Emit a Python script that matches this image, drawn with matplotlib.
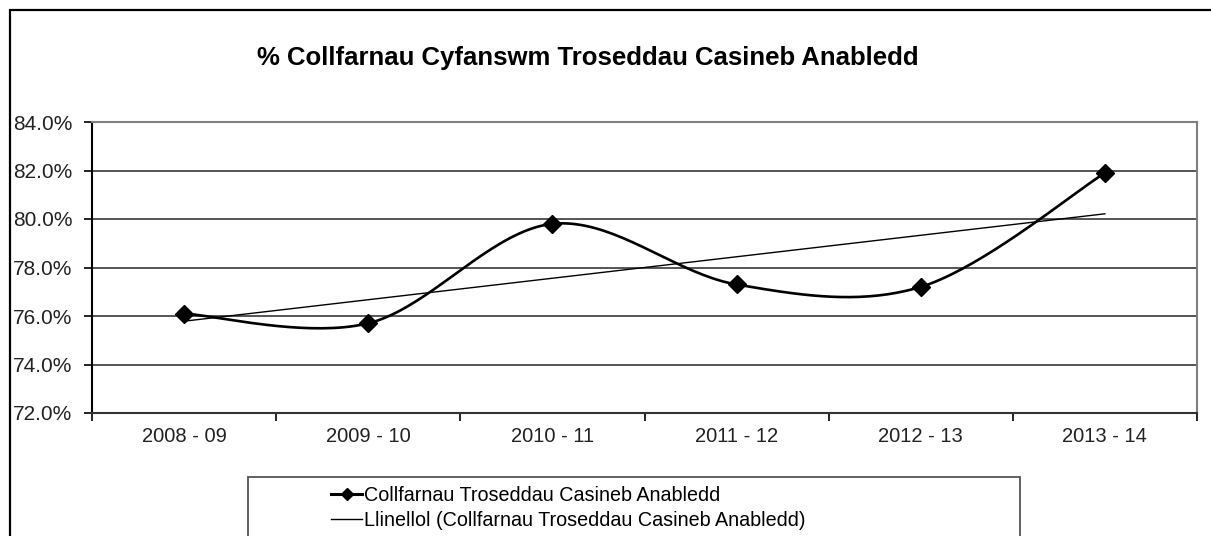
import numpy as np
import matplotlib
matplotlib.use("Agg")
from matplotlib import pyplot as plt
from matplotlib.patches import Rectangle
from matplotlib.lines import Line2D

years = ["2008 - 09", "2009 - 10", "2010 - 11", "2011 - 12", "2012 - 13", "2013 - 14"]
conviction_pct = [76.1, 75.7, 79.8, 77.3, 77.2, 81.9]
y_ticks = [72, 74, 76, 78, 80, 82, 84]
series_label = "Collfarnau Troseddau Casineb Anabledd"
trend_label = "Llinellol (Collfarnau Troseddau Casineb Anabledd)"
title = "% Collfarnau Cyfanswm Troseddau Casineb Anabledd"

plt.rcParams["font.family"] = ["Liberation Sans", "DejaVu Sans"]


def smooth_curve(xs, ys, n=40):
    # Excel style smoothing: Catmull-Rom segments as cubic beziers
    pts = np.column_stack([xs, ys]).astype(float)
    padded = np.vstack([pts[0], pts, pts[-1]])
    out = []
    for i in range(len(pts) - 1):
        p0, p1, p2, p3 = padded[i], padded[i + 1], padded[i + 2], padded[i + 3]
        b1 = p1 + (p2 - p0) / 6
        b2 = p2 - (p3 - p1) / 6
        t = np.linspace(0, 1, n)[:, None]
        seg = ((1 - t) ** 3) * p1 + 3 * ((1 - t) ** 2) * t * b1 + 3 * (1 - t) * t ** 2 * b2 + t ** 3 * p2
        out.append(seg if i == 0 else seg[1:])
    seg = np.vstack(out)
    return seg[:, 0], seg[:, 1]


x = np.arange(len(years))
fig = plt.figure(figsize=(12.11, 5.36), dpi=100)
ax = fig.add_axes([92 / 1211, 1 - 413 / 536, (1197 - 92) / 1211, (413 - 122) / 536])

# outer chart border (only top and left visible in the crop)
fig.patches.append(Rectangle((10 / 1211, -0.2), 1.5, 1.2 - 10 / 536, transform=fig.transFigure,
                             fill=False, edgecolor="black", linewidth=1.6, clip_on=False))

sx, sy = smooth_curve(x, conviction_pct)
ax.plot(sx, sy, color="black", linewidth=1.9, zorder=3)
ax.plot(x, conviction_pct, linestyle="none", marker="D", markersize=9, color="black", zorder=4)

coef = np.polyfit(x, conviction_pct, 1)
ax.plot(x, np.polyval(coef, x), color="black", linewidth=1.0, zorder=2)

ax.set_xlim(-0.5, len(years) - 0.5)
ax.set_ylim(72, 84)
ax.set_yticks(y_ticks)
ax.set_yticklabels([f"{v:.1f}%" for v in y_ticks])
ax.set_xticks(np.arange(-0.5, len(years)), labels=[])
ax.set_xticks(x, labels=years, minor=True)
ax.tick_params(axis="x", which="minor", length=0, pad=10, labelsize=14.5, labelcolor="#222222")
ax.tick_params(axis="x", which="major", length=6, width=1.2, color="black")
ax.tick_params(axis="y", length=6, width=1.2, color="black", labelsize=15, pad=8, labelcolor="#222222")

ax.grid(axis="y", color="#555555", linewidth=1.4)
ax.set_axisbelow(True)
ax.spines["left"].set_color("black")
ax.spines["bottom"].set_color("#333333")
ax.spines["top"].set_color("#808080")
ax.spines["right"].set_color("#808080")
for s in ax.spines.values():
    s.set_linewidth(1.5)

fig.text(588 / 1211, 1 - 58 / 536, title, ha="center", va="center", fontsize=18.5, fontweight="bold")

# legend box, cut off at the bottom like the reference
fig.patches.append(Rectangle((248 / 1211, -0.2), (1020 - 248) / 1211, 0.2 + 1 - 477 / 536,
                             transform=fig.transFigure, fill=False, edgecolor="#555555",
                             linewidth=1.3, clip_on=False))
handles = [Line2D([], [], color="black", linewidth=2.2, marker="D", markersize=6),
           Line2D([], [], color="black", linewidth=1.0)]
fig.legend(handles, [series_label, trend_label], loc="upper left",
           bbox_to_anchor=(321 / 1211, 1 - 476 / 536), frameon=False, fontsize=14.2,
           handlelength=1.6, handletextpad=0.1, labelspacing=0.3, borderpad=0)

fig.savefig("out.png", dpi=100)
